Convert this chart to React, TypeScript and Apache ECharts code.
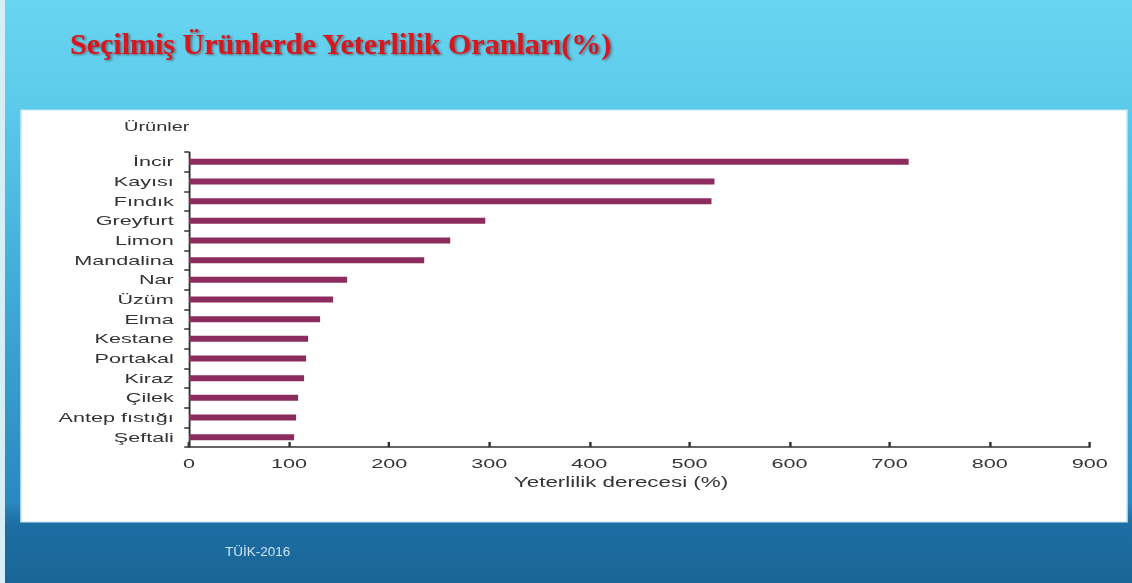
import React, { useEffect, useRef } from "react";
import * as echarts from "echarts";

const categories = [
  "İncir", "Kayısı", "Fındık", "Greyfurt", "Limon", "Mandalina", "Nar", "Üzüm",
  "Elma", "Kestane", "Portakal", "Kiraz", "Çilek", "Antep fıstığı", "Şeftali",
];
const values = [719, 525, 522, 296, 261, 235, 158, 144, 131, 119, 117, 115, 109, 107, 105];
const xTicks = { min: 0, max: 900, interval: 100 };
const titleText = "Seçilmiş Ürünlerde Yeterlilik Oranları(%)";
const yAxisTitle = "Ürünler";
const xAxisTitle = "Yeterlilik derecesi (%)";
const sourceText = "TÜİK-2016";

const W = 1132;
const H = 583;
const S = 1.6; // the pasted chart picture is stretched horizontally

export default function App() {
  const ref = useRef<HTMLDivElement>(null);
  useEffect(() => {
    document.body.style.margin = "0";
    const chart = echarts.init(ref.current!, null, { renderer: "svg" });
    const u = (x: number) => x / S;
    const font = "'Liberation Sans', Arial, sans-serif";
    chart.setOption({
      animation: false,
      graphic: [
        {
          type: "rect",
          z: -10,
          silent: true,
          shape: { x: 0, y: 0, width: u(W), height: H },
          style: {
            fill: new echarts.graphic.LinearGradient(0, 0, 0, 1, [
              { offset: 0, color: "#68d6f1" },
              { offset: 0.18, color: "#5ccaea" },
              { offset: 0.5, color: "#41aad8" },
              { offset: 0.86, color: "#2b88bf" },
              { offset: 0.9, color: "#1d6ea3" },
              { offset: 1, color: "#1a6597" },
            ]),
          },
        },
        {
          type: "rect",
          z: -9,
          silent: true,
          shape: { x: 0, y: 0, width: u(5), height: H },
          style: { fill: "#d6eef8" },
        },
        {
          type: "rect",
          z: -8,
          silent: true,
          shape: { x: u(21), y: 110, width: u(1106), height: 412 },
          style: { fill: "#ffffff", stroke: "#c4e6f3", lineWidth: 1 },
        },
        {
          type: "text",
          z: 10,
          x: u(70),
          y: 43,
          scaleX: 1 / S,
          style: {
            text: titleText,
            font: "bold 30px 'Liberation Serif', serif",
            fill: "#d8141e",
            verticalAlign: "middle",
            textShadowColor: "rgba(90,0,0,0.55)",
            textShadowBlur: 2,
            textShadowOffsetX: 1,
            textShadowOffsetY: 1,
          },
        },
        {
          type: "text",
          z: 10,
          x: u(225),
          y: 551,
          scaleX: 1 / S,
          style: {
            text: sourceText,
            font: "13.5px 'Liberation Sans Narrow', 'Liberation Sans', sans-serif",
            fill: "#cfe6f4",
            verticalAlign: "middle",
          },
        },
        {
          type: "text",
          z: 10,
          x: u(124),
          y: 127,
          style: {
            text: yAxisTitle,
            font: `12.5px ${font}`,
            fill: "#333",
            verticalAlign: "middle",
          },
        },
      ],
      grid: { left: u(189), right: u(W - 1089), top: 152, bottom: 136, containLabel: false },
      xAxis: {
        type: "value",
        min: xTicks.min,
        max: xTicks.max,
        interval: xTicks.interval,
        axisLine: { show: true, lineStyle: { color: "#333", width: 1.5 } },
        axisTick: { show: true, inside: true, length: 5, lineStyle: { color: "#333", width: 1.5 } },
        axisLabel: { fontSize: 13.5, color: "#333", margin: 9, fontFamily: font },
        splitLine: { show: false },
        name: xAxisTitle,
        nameLocation: "middle",
        nameGap: 28,
        nameTextStyle: { fontSize: 14, color: "#333", fontFamily: font, padding: [0, 23, 0, 0] },
      },
      yAxis: {
        type: "category",
        data: categories,
        inverse: true,
        axisLine: { show: true, lineStyle: { color: "#333", width: 1.2 } },
        axisTick: { show: true, length: 3, lineStyle: { color: "#333", width: 1.5 } },
        axisLabel: { fontSize: 13.5, color: "#333", margin: 9.5, fontFamily: font },
        splitLine: { show: false },
      },
      series: [
        {
          type: "bar",
          data: values,
          barWidth: 6,
          itemStyle: { color: "#8c2b5d" },
        },
      ],
    });
    return () => chart.dispose();
  }, []);
  return (
    <div
      ref={ref}
      style={{
        position: "fixed",
        left: 0,
        top: 0,
        width: W / S,
        height: H,
        transform: `scaleX(${S})`,
        transformOrigin: "0 0",
      }}
    />
  );
}
